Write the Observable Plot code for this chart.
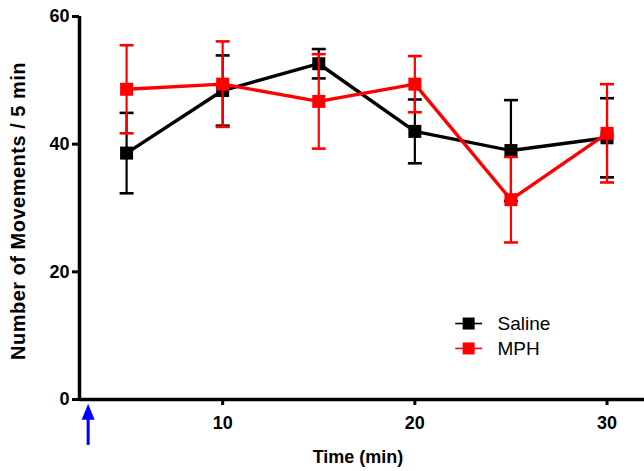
<!DOCTYPE html>
<html>
<head>
<meta charset="utf-8">
<script src="https://cdn.jsdelivr.net/npm/d3@7"></script>
<script src="https://cdn.jsdelivr.net/npm/@observablehq/plot@0.6"></script>
<style>
  html, body { margin: 0; padding: 0; background: #fff; }
  svg { font-family: "Liberation Sans", Arial, sans-serif; }
  .ylabel text { letter-spacing: 0.5px; }
</style>
</head>
<body>
<div id="chart"></div>
<script>
// ---- data ----
const times = [5, 10, 15, 20, 25, 30];
const salineMean = [38.6, 48.4, 52.6, 42.0, 39.0, 41.0];
const salineSem  = [6.3, 5.5, 2.3, 5.0, 7.9, 6.2];
const mphMean    = [48.6, 49.4, 46.7, 49.4, 31.3, 41.7];
const mphSem     = [6.9, 6.7, 7.4, 4.4, 6.7, 7.7];
const seriesNames = ["Saline", "MPH"];
const seriesColors = ["#000000", "#ff0000"];
const yTicks = [0, 20, 40, 60];
const xTicks = [10, 20, 30];
const xLabel = "Time (min)";
const yLabel = "Number of Movements / 5 min";
const injectionTime = [3.0];           // blue arrow marker on the time axis
const legendY = [11.9, 8.0];           // legend rows in y units
const legendX = {line1: 22.1, sym: 22.8, line2: 23.5, text: 24.3};

const build = (mean, sem, name) => times.map((t, i) => ({
  t, mean: mean[i], lo: mean[i] - sem[i], hi: mean[i] + sem[i], name
}));
const saline = build(salineMean, salineSem, "Saline");
const mph = build(mphMean, mphSem, "MPH");

const capSymbol = { draw(ctx) { ctx.moveTo(-7, 0); ctx.lineTo(7, 0); } };
const squareSymbol = { draw(ctx) { ctx.rect(-6.5, -6.5, 13, 13); } };
const legendSquare = { draw(ctx) { ctx.rect(-6, -6, 12, 12); } };
const arrowHead = { draw(ctx) { ctx.moveTo(0, -8); ctx.lineTo(6.5, 8); ctx.lineTo(-6.5, 8); ctx.closePath(); } };

const seriesMarks = (data, color) => [
  Plot.ruleX(data, {x: "t", y1: "lo", y2: "hi", stroke: color, strokeWidth: 2.2}),
  Plot.dot(data, {x: "t", y: "hi", symbol: capSymbol, stroke: color, strokeWidth: 2.6, fill: "none"}),
  Plot.dot(data, {x: "t", y: "lo", symbol: capSymbol, stroke: color, strokeWidth: 2.6, fill: "none"}),
  Plot.line(data, {x: "t", y: "mean", stroke: color, strokeWidth: 3.4}),
  Plot.dot(data, {x: "t", y: "mean", symbol: squareSymbol, fill: color, stroke: "none"})
];

const legendData = seriesNames.map((name, i) => ({name, color: seriesColors[i], y: legendY[i]}));

const chart = Plot.plot({
  width: 644,
  height: 471,
  marginLeft: 79,
  marginRight: 0,
  marginTop: 16,
  marginBottom: 72,
  style: {fontFamily: "'Liberation Sans', Arial, sans-serif", background: "#fff", overflow: "visible"},
  x: {domain: [2.55, 31.95]},
  y: {domain: [0, 60]},
  marks: [
    Plot.axisY({ticks: yTicks, tickSize: 7, tickPadding: 3, strokeWidth: 3, fontSize: 18, fontWeight: "bold", label: null, fill: "#000"}),
    Plot.axisX({ticks: xTicks, tickSize: 6, tickPadding: 11, strokeWidth: 3, fontSize: 18, fontWeight: "bold", label: null, fill: "#000"}),
    Plot.ruleY([0], {stroke: "#000", strokeWidth: 3.5}),
    Plot.ruleX([2.55], {stroke: "#000", strokeWidth: 3.5}),
    Plot.text([yLabel], {frameAnchor: "left", textAnchor: "middle", rotate: -90, dx: -61, dy: 3, fontSize: 20, fontWeight: "bold", fill: "#000", className: "ylabel"}),
    Plot.text([xLabel], {frameAnchor: "bottom", dx: -4, dy: 63, fontSize: 18, fontWeight: "bold", fill: "#000"}),
    ...seriesMarks(saline, seriesColors[0]),
    ...seriesMarks(mph, seriesColors[1]),
    // injection arrow
    Plot.ruleX(injectionTime, {y1: -7.2, y2: -2.5, stroke: "#0000ff", strokeWidth: 3}),
    Plot.dot(injectionTime, {x: d => d, y: -1.9, symbol: arrowHead, fill: "#0000ff", stroke: "none"}),
    // legend
    Plot.link(legendData, {x1: legendX.line1, x2: legendX.line2, y1: "y", y2: "y", stroke: "color", strokeWidth: 1.6}),
    Plot.dot(legendData, {x: legendX.sym, y: "y", symbol: legendSquare, fill: "color", stroke: "none"}),
    Plot.text(legendData, {x: legendX.text, y: "y", text: "name", textAnchor: "start", fontSize: 19, fill: "#000"})
  ]
});
document.getElementById("chart").appendChild(chart);
</script>
</body>
</html>
